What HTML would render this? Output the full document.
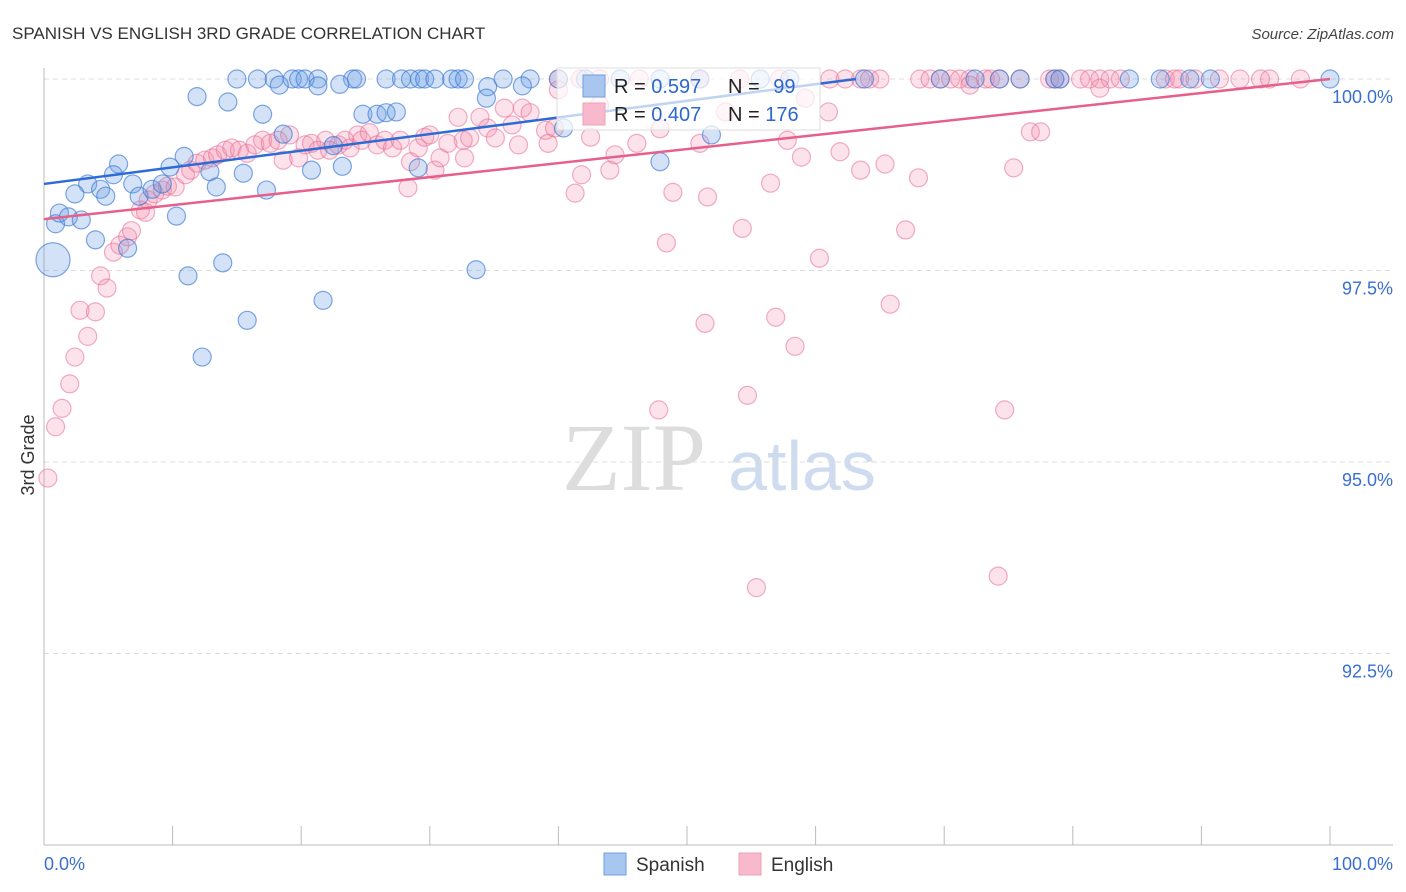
<!DOCTYPE html>
<html><head><meta charset="utf-8"><style>
body{margin:0;background:#fff;font-family:"Liberation Sans",sans-serif}
svg{display:block}
</style></head><body>
<svg id="chart" width="1406" height="892">
<text x="12" y="39" font-size="17" fill="#333">SPANISH VS ENGLISH 3RD GRADE CORRELATION CHART</text>
<text x="1394" y="39" font-size="15" fill="#444" font-style="italic" text-anchor="end">Source: ZipAtlas.com</text>
<g><text x="634" y="490" font-size="96" fill="#ddd" font-family="Liberation Serif,serif" text-anchor="middle">ZIP</text><text x="802" y="490" font-size="70" fill="#cfdcf0" text-anchor="middle">atlas</text></g>
<g id="grid"></g>
<g id="axes"></g>
<g id="marks"></g>
<text transform="translate(34,455) rotate(-90)" font-size="18" fill="#333" text-anchor="middle">3rd Grade</text>
<g>
<rect x="557" y="68" width="263" height="62" fill="#fff" fill-opacity="0.7" stroke="#ddd"/>
<rect x="583" y="75" width="22" height="22" fill="#a8c6f0" stroke="#6f9ee0"/>
<rect x="583" y="103" width="22" height="22" fill="#f7b9cb" stroke="#f0a0b8"/>
<text x="614" y="93" font-size="20" fill="#222">R = <tspan fill="#2d66cc">0.597</tspan></text>
<text x="728" y="93" font-size="20" fill="#222">N = <tspan fill="#2d66cc" dx="8">99</tspan></text>
<text x="614" y="121" font-size="20" fill="#222">R = <tspan fill="#2d66cc">0.407</tspan></text>
<text x="728" y="121" font-size="20" fill="#222">N = <tspan fill="#2d66cc">176</tspan></text>
</g>
<g><rect x="604" y="853" width="22" height="22" fill="#a8c6f0" stroke="#6f9ee0"/><text x="636" y="871" font-size="19" fill="#333">Spanish</text></g>
<g><rect x="739" y="853" width="22" height="22" fill="#f7b9cb" stroke="#f0a0b8"/><text x="771" y="871" font-size="19" fill="#333">English</text></g>
</svg>
<script>
const yTicks=[100,97.5,95,92.5];
const yTickLabels=["100.0%","97.5%","95.0%","92.5%"];
const xTickLabels=["0.0%","100.0%"];
const spX=[15.0,16.6,17.9,19.3,19.8,20.3,21.3,24.0,24.3,26.6,27.8,28.5,29.2,29.6,30.4,31.7,32.2,32.7,35.7,37.8,40.0,42.1,44.8,47.9,51.0,55.7,58.0,63.8,69.7,72.4,74.3,75.9,78.6,79.0,84.4,86.8,89.1,90.7,100,
18.3,23.0,21.3,34.5,37.2,11.9,14.3,17.0,24.8,25.9,26.6,27.4,34.4,40.4,
10.9,5.8,9.8,5.4,3.4,6.9,4.4,2.4,4.8,7.4,12.9,13.4,15.5,17.3,8.4,9.2,18.6,22.5,20.8,23.2,29.1,47.9,51.9,
0.9,1.2,1.9,2.9,4.0,6.5,10.3,0.7,11.2,13.9,21.7,15.8,12.3,33.6];
const spY=[100,100,100,100,100,100,100,100,100,100,100,100,100,100,100,100,100,100,100,100,100,100,100,100,100,100,100,100,100,100,100,100,100,100,100,100,100,100,100,
99.92,99.93,99.91,99.9,99.91,99.77,99.7,99.54,99.54,99.54,99.56,99.57,99.75,99.36,
98.99,98.89,98.85,98.75,98.63,98.63,98.56,98.5,98.47,98.47,98.79,98.59,98.77,98.55,98.56,98.63,99.28,99.13,98.81,98.86,98.84,98.92,99.27,
98.11,98.25,98.2,98.16,97.9,97.79,98.21,97.64,97.43,97.6,97.11,96.85,96.37,97.51];
const spSize=spX.map((v,i)=>i===spX.length-7?17:9);
const enX=[40.0,41.7,43.2,46.3,51.0,54.1,57.2,61.1,62.3,63.5,64.2,65.0,68.1,68.9,69.7,70.5,71.2,72.0,73.2,73.6,74.3,75.9,78.2,78.6,79.0,80.6,81.3,82.1,82.9,83.7,87.2,87.9,88.3,89.5,91.4,93.0,94.6,95.3,97.7,
40.0,43.2,53.0,59.2,61.0,72.0,82.1,
0.3,0.9,1.4,2.0,2.4,2.8,4.0,3.4,4.4,4.9,5.4,5.9,6.5,6.8,7.5,7.9,8.1,8.6,9.2,9.6,10.2,11.0,11.4,11.9,12.5,13.1,13.5,14.1,14.6,15.2,15.8,16.4,17.0,17.6,18.2,18.6,19.1,19.8,20.3,20.8,21.3,21.9,22.2,22.9,23.4,23.8,24.4,24.7,25.3,25.9,26.5,27.1,27.7,28.3,28.5,29.1,29.6,30.0,30.4,30.8,31.4,32.2,32.6,32.7,33.1,33.9,34.5,35.1,35.8,36.4,36.9,37.2,37.8,39.0,39.2,39.7,41.3,41.8,42.5,44.0,44.4,46.1,47.9,48.9,48.4,51.0,51.4,51.6,54.3,54.7,55.4,56.5,56.9,57.8,58.4,58.9,60.3,61.9,63.5,65.4,65.8,67.0,68.0,74.2,74.7,75.4,76.7,77.5,47.8];
const enY=[100,100,100,100,100,100,100,100,100,100,100,100,100,100,100,100,100,100,100,100,100,100,100,100,100,100,100,100,100,100,100,100,100,100,100,100,100,100,100,
99.86,99.66,99.57,99.75,99.57,99.92,99.88,
94.79,95.46,95.70,96.02,96.37,96.98,96.96,96.64,97.43,97.27,97.74,97.83,97.94,98.02,98.29,98.26,98.42,98.50,98.55,98.60,98.59,98.75,98.81,98.90,98.94,98.97,99.01,99.07,99.10,99.07,99.03,99.14,99.20,99.16,99.20,98.94,99.27,98.97,99.14,99.16,99.07,99.20,99.07,99.14,99.20,99.10,99.27,99.20,99.30,99.14,99.20,99.10,99.20,98.58,98.92,99.10,99.24,99.27,98.81,98.97,99.16,99.50,99.20,98.97,99.23,99.50,99.36,99.23,99.62,99.40,99.14,99.62,99.56,99.33,99.16,99.36,98.51,98.75,99.24,98.81,99.01,99.16,99.35,98.52,97.86,99.16,96.81,98.46,98.05,95.87,93.36,98.64,96.89,99.20,96.51,98.98,97.66,99.05,98.81,98.89,97.06,98.03,98.71,93.51,95.68,98.84,99.31,99.31,95.68];
const spTrend=[98.63,100.8];
const enTrend=[98.17,100];
const NS="http://www.w3.org/2000/svg";
const X=v=>44+v*12.86;
const Y=v=>79+(100-v)*76.6;
function mk(t,a,p){const e=document.createElementNS(NS,t);for(const k in a)e.setAttribute(k,a[k]);p.appendChild(e);return e;}
const grid=document.getElementById('grid'),axes=document.getElementById('axes'),marks=document.getElementById('marks');
yTicks.forEach((t,i)=>{
 const l=mk('line',{x1:44,x2:1393,y1:Y(t),y2:Y(t),stroke:'#ddd','stroke-dasharray':'5,4'},grid);
 
 
 const tx=mk('text',{x:1393,y:Y(t)+24,'font-size':18,fill:'#3a6fd0','text-anchor':'end'},axes);
 tx.textContent=yTickLabels[i];
 
 
});
const xa=mk('line',{x1:44,x2:1393,y1:845,y2:845,stroke:'#bbb'},axes);


const ya=mk('line',{x1:44,x2:44,y1:68,y2:845,stroke:'#bbb'},axes);


for(let i=1;i<=10;i++){const t=mk('line',{x1:X(i*10),x2:X(i*10),y1:826,y2:845,stroke:'#bbb'},axes);
 
 }
[[0,'start',44],[100,'end',1393]].forEach((d,i)=>{const t=mk('text',{x:d[2],y:870,'font-size':18,fill:'#3a6fd0','text-anchor':d[1]},axes);t.textContent=xTickLabels[i];
 
 });
enX.forEach((v,i)=>{const c=mk('circle',{cx:X(v),cy:Y(enY[i]),r:9,fill:'rgba(242,140,170,0.25)',stroke:'rgba(230,110,150,0.55)','stroke-width':1.2},marks);
 
 });
spX.forEach((v,i)=>{const c=mk('circle',{cx:X(v),cy:Y(spY[i]),r:spSize[i],fill:'rgba(110,160,230,0.3)',stroke:'rgba(60,120,210,0.65)','stroke-width':1.2},marks);
 
 });
function trend(tr,col,name){let x2=100,y2=tr[1];if(tr[1]>100){x2=(100-tr[0])/(tr[1]-tr[0])*100;y2=100;}
 const l=mk('line',{x1:X(0),y1:Y(tr[0]),x2:X(x2),y2:Y(y2),stroke:col,'stroke-width':2.5},marks);
 
 }
trend(enTrend,'#e6608a','english-trend-line');
trend(spTrend,'#2d6bd6','spanish-trend-line');
</script>
</body></html>
